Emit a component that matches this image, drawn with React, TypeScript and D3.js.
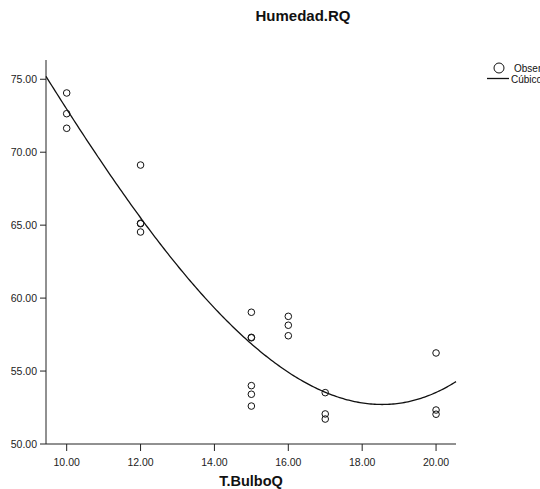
import React from "react";
import * as d3 from "d3";

// constants
const width = 540;
const height = 489;
const plot = { left: 46, right: 456, top: 60, bottom: 444 };

const bulbo = [10, 10, 10, 12, 12, 12, 12, 15, 15, 15, 15, 15, 15, 16, 16, 16, 17, 17, 17, 20, 20, 20];
const humedad = [74.06, 72.64, 71.64, 69.12, 65.13, 65.1, 64.53, 59.03, 57.31, 57.28, 54.0, 53.41, 52.6, 58.75, 58.14, 57.42, 53.52, 52.06, 51.71, 56.24, 52.33, 52.04];

const xTicks = [10, 12, 14, 16, 18, 20];
const yTicks = [50, 55, 60, 65, 70, 75];

// least squares cubic (the "Cúbico" fit)
const cubicFit = (xs: number[], ys: number[]) => {
  const m = d3.mean(xs) as number;
  const n = 4;
  const A = Array.from({ length: n }, () => new Array(n + 1).fill(0));
  xs.forEach((x, k) => {
    const t = x - m;
    const p = [1, t, t * t, t * t * t];
    for (let i = 0; i < n; i++) {
      for (let j = 0; j < n; j++) A[i][j] += p[i] * p[j];
      A[i][n] += p[i] * ys[k];
    }
  });
  for (let c = 0; c < n; c++) {
    let piv = c;
    for (let r = c + 1; r < n; r++) if (Math.abs(A[r][c]) > Math.abs(A[piv][c])) piv = r;
    [A[c], A[piv]] = [A[piv], A[c]];
    for (let r = 0; r < n; r++) {
      if (r === c) continue;
      const f = A[r][c] / A[c][c];
      for (let k = c; k <= n; k++) A[r][k] -= f * A[c][k];
    }
  }
  const b = A.map((row, i) => row[n] / row[i]);
  return (x: number) => {
    const t = x - m;
    return b[0] + b[1] * t + b[2] * t * t + b[3] * t * t * t;
  };
};

const App = () => {
  const xScale = d3.scaleLinear().domain([9.44, 20.54]).range([plot.left, plot.right]);
  const yScale = d3.scaleLinear().domain([50, 76.32]).range([plot.bottom, plot.top]);

  const fit = cubicFit(bulbo, humedad);
  const curveX = d3.range(9.44, 20.54, 0.05).concat([20.54]);
  const line = d3
    .line<number>()
    .x((d) => xScale(d))
    .y((d) => yScale(fit(d)));

  const font = "'Liberation Sans', Arial, sans-serif";

  return (
    <svg width={width} height={height} style={{ position: "absolute", left: 0, top: 0 }} fontFamily={font}>
      <rect width={width} height={height} fill="#fff" />
      <text x={303} y={21} textAnchor="middle" fontWeight="bold" fontSize={15} fill="#111">
        Humedad.RQ
      </text>

      {/* axes */}
      <line x1={plot.left} x2={plot.left} y1={plot.top} y2={plot.bottom} stroke="#222" />
      <line x1={plot.left} x2={plot.right} y1={plot.bottom} y2={plot.bottom} stroke="#222" />
      {yTicks.map((t) => (
        <g key={"y" + t}>
          <line x1={plot.left - 6} x2={plot.left} y1={yScale(t)} y2={yScale(t)} stroke="#222" />
          <text x={plot.left - 9} y={yScale(t) + 4} textAnchor="end" fontSize={10.5} fill="#222">
            {d3.format(".2f")(t)}
          </text>
        </g>
      ))}
      {xTicks.map((t) => (
        <g key={"x" + t}>
          <line x1={xScale(t)} x2={xScale(t)} y1={plot.bottom} y2={plot.bottom + 7} stroke="#222" />
          <text x={xScale(t)} y={plot.bottom + 22} textAnchor="middle" fontSize={10.5} fill="#222">
            {d3.format(".2f")(t)}
          </text>
        </g>
      ))}
      <text x={(plot.left + plot.right) / 2} y={486} textAnchor="middle" fontWeight="bold" fontSize={14.5} fill="#111">
        T.BulboQ
      </text>

      {/* fit */}
      <path d={line(curveX) || ""} fill="none" stroke="#111" strokeWidth={1.3} />

      {/* observations */}
      {bulbo.map((x, i) => (
        <circle key={i} cx={xScale(x)} cy={yScale(humedad[i])} r={3.3} fill="none" stroke="#111" strokeWidth={1} />
      ))}

      {/* legend */}
      <circle cx={499} cy={68} r={5} fill="none" stroke="#111" strokeWidth={1} />
      <text x={514} y={72} fontSize={10} fill="#111">Observado</text>
      <line x1={487} x2={509} y1={78.5} y2={78.5} stroke="#111" strokeWidth={1.3} />
      <text x={511} y={83} fontSize={10} fill="#111">Cúbico</text>
    </svg>
  );
};

export default App;
